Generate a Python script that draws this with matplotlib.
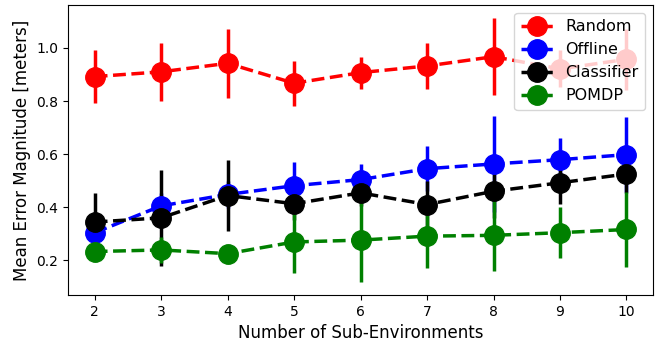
import matplotlib
matplotlib.use("Agg")
import matplotlib.pyplot as plt

x = [2, 3, 4, 5, 6, 7, 8, 9, 10]
random_mean = [0.892, 0.910, 0.942, 0.867, 0.907, 0.932, 0.967, 0.921, 0.957]
random_err = [0.10, 0.11, 0.13, 0.085, 0.06, 0.088, 0.145, 0.07, 0.115]
offline_mean = [0.304, 0.405, 0.448, 0.481, 0.504, 0.545, 0.563, 0.579, 0.598]
offline_err = [0.03, 0.05, 0.05, 0.09, 0.06, 0.085, 0.18, 0.08, 0.14]
classifier_mean = [0.344, 0.360, 0.444, 0.413, 0.454, 0.410, 0.460, 0.492, 0.525]
classifier_err = [0.11, 0.18, 0.135, 0.06, 0.05, 0.09, 0.10, 0.08, 0.07]
pomdp_mean = [0.233, 0.239, 0.225, 0.269, 0.276, 0.291, 0.294, 0.304, 0.316]
pomdp_err = [0.02, 0.05, 0.02, 0.115, 0.157, 0.12, 0.135, 0.095, 0.14]

series = [
    ("Random", random_mean, random_err, "red"),
    ("Offline", offline_mean, offline_err, "blue"),
    ("Classifier", classifier_mean, classifier_err, "black"),
    ("POMDP", pomdp_mean, pomdp_err, "green"),
]

fig, ax = plt.subplots(figsize=(6.61, 3.45), dpi=100)
fig.subplots_adjust(left=0.103, right=0.988, top=0.9855, bottom=0.145)

for label, m, e, c in series:
    ax.errorbar(x, m, yerr=e, fmt="o--", color=c, markersize=14,
                linewidth=2.5, elinewidth=2.5, capsize=0, label=label)

ax.set_xlabel("Number of Sub-Environments", fontsize=12)
ax.set_ylabel("Mean Error Magnitude [meters]", fontsize=12)
ax.tick_params(labelsize=10)
ax.set_xticks(x)
ax.legend(loc="upper right", fontsize=11.5)

fig.savefig("out.png", dpi=100)
